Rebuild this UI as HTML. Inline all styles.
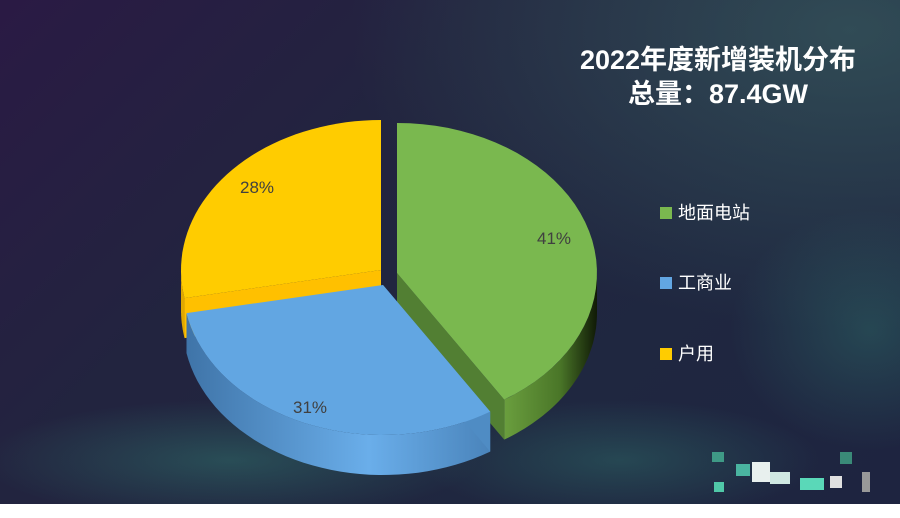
<!DOCTYPE html>
<html><head><meta charset="utf-8"><style>
html,body{margin:0;padding:0;}
body{width:900px;height:518px;background:#fff;position:relative;overflow:hidden;font-family:"Liberation Sans","Noto Sans CJK SC",sans-serif;}
#bg{position:absolute;left:0;top:0;width:900px;height:504px;
background:
radial-gradient(ellipse 140px 120px at 870px 330px, rgba(60,170,140,.25), transparent),
radial-gradient(ellipse 250px 60px at 230px 460px, rgba(60,170,140,.3), transparent),
radial-gradient(ellipse 200px 60px at 620px 460px, rgba(60,170,140,.25), transparent),
radial-gradient(ellipse 500px 300px at 850px 30px, rgba(60,100,100,.6), transparent),
linear-gradient(135deg,#2a1a44 0%,#22243f 35%,#1f2740 70%,#1e2440 100%);}
.t{position:absolute;color:#fff;font-weight:bold;font-size:27px;width:320px;text-align:center;left:558px;}
.lg{position:absolute;left:660px;color:#fff;font-size:18px;}
.lg span{display:inline-block;width:12px;height:12px;margin-right:6px;vertical-align:0px;}
</style></head><body>
<div id="bg"></div>
<div class="t" style="top:38px">2022年度新增装机分布</div>
<div class="t" style="top:72px">总量：87.4GW</div>
<div class="lg" style="top:199px"><span style="background:#7ab84f"></span>地面电站</div>
<div class="lg" style="top:269px"><span style="background:#62a6e2"></span>工商业</div>
<div class="lg" style="top:340px"><span style="background:#ffcc00"></span>户用</div>
<svg id="s" width="900" height="518" style="position:absolute;left:0;top:0">
<defs>
<linearGradient id="gs" x1="0" x2="1"><stop offset="0" stop-color="#6a9e3e"/><stop offset=".6" stop-color="#4a7628"/><stop offset="1" stop-color="#101a06"/></linearGradient>
<linearGradient id="bs" x1="0" x2="1"><stop offset="0" stop-color="#3f74a8"/><stop offset=".6" stop-color="#6aaeea"/><stop offset="1" stop-color="#4a84bb"/></linearGradient>
</defs>
<g id="g"></g>
<g fill="#404040" font-size="17" font-family="Liberation Sans, sans-serif">
<text x="537" y="244">41%</text><text x="293" y="413">31%</text><text x="240" y="193">28%</text>
</g>
<g>
<rect x="712" y="452" width="12" height="10" fill="#3f9a86"/><rect x="736" y="464" width="14" height="12" fill="#4ab4a0"/>
<rect x="752" y="462" width="18" height="20" fill="#e8f0ee"/><rect x="770" y="472" width="20" height="12" fill="#cfe8e2"/>
<rect x="800" y="478" width="24" height="12" fill="#5ad8b8"/><rect x="830" y="476" width="12" height="12" fill="#e0e0e0"/>
<rect x="862" y="472" width="8" height="20" fill="#999"/><rect x="714" y="482" width="10" height="10" fill="#50c8a8"/>
<rect x="840" y="452" width="12" height="12" fill="#3a8a78"/>
</g>
</svg>
<script>
var D=40,rx=200,ry=150,g=document.getElementById('g'),out='';
function P(c,a){var r=a*Math.PI/180;return [c[0]+rx*Math.sin(r),c[1]-ry*Math.cos(r)];}
function arc(c,a1,a2,dy){var s='',n=40;for(var i=0;i<=n;i++){var p=P(c,a1+(a2-a1)*i/n);s+=(p[0]).toFixed(1)+','+(p[1]+dy).toFixed(1)+' ';}return s;}
function slice(c,a1,a2,top,side,cut1,cut2){
 var b1=Math.max(a1,90),b2=Math.min(a2,270);
 if(b2>b1){out+='<polygon fill="'+side+'" points="'+arc(c,b1,b2,0)+arc(c,b2,b1,D)+'"/>';}
 if(cut2){var p=P(c,a2);out+='<polygon fill="'+cut2+'" points="'+c[0]+','+c[1]+' '+p[0]+','+p[1]+' '+p[0]+','+(p[1]+D)+' '+c[0]+','+(c[1]+D)+'"/>';}
 if(cut1){var p=P(c,a1);out+='<polygon fill="'+cut1+'" points="'+c[0]+','+c[1]+' '+p[0]+','+p[1]+' '+p[0]+','+(p[1]+D)+' '+c[0]+','+(c[1]+D)+'"/>';}
 out+='<polygon fill="'+top+'" points="'+c[0]+','+c[1]+' '+arc(c,a1,a2,0)+'"/>';
}
slice([381,270],259.2,360,'#ffcc00','#e0a800',null,null);
(function(){var c=[381,270],p=P(c,259.2);out+='<polygon fill="#ffc000" points="'+c[0]+','+c[1]+' '+p[0]+','+p[1]+' '+p[0]+','+(p[1]+D)+' '+c[0]+','+(c[1]+D)+'"/>';})();
slice([397,273],0,147.6,'#7ab84f','url(#gs)',null,'#527f33');
slice([383,285],147.6,259.2,'#62a6e2','url(#bs)','#4f8cc4',null);
g.innerHTML=out;
</script>
</body></html>
